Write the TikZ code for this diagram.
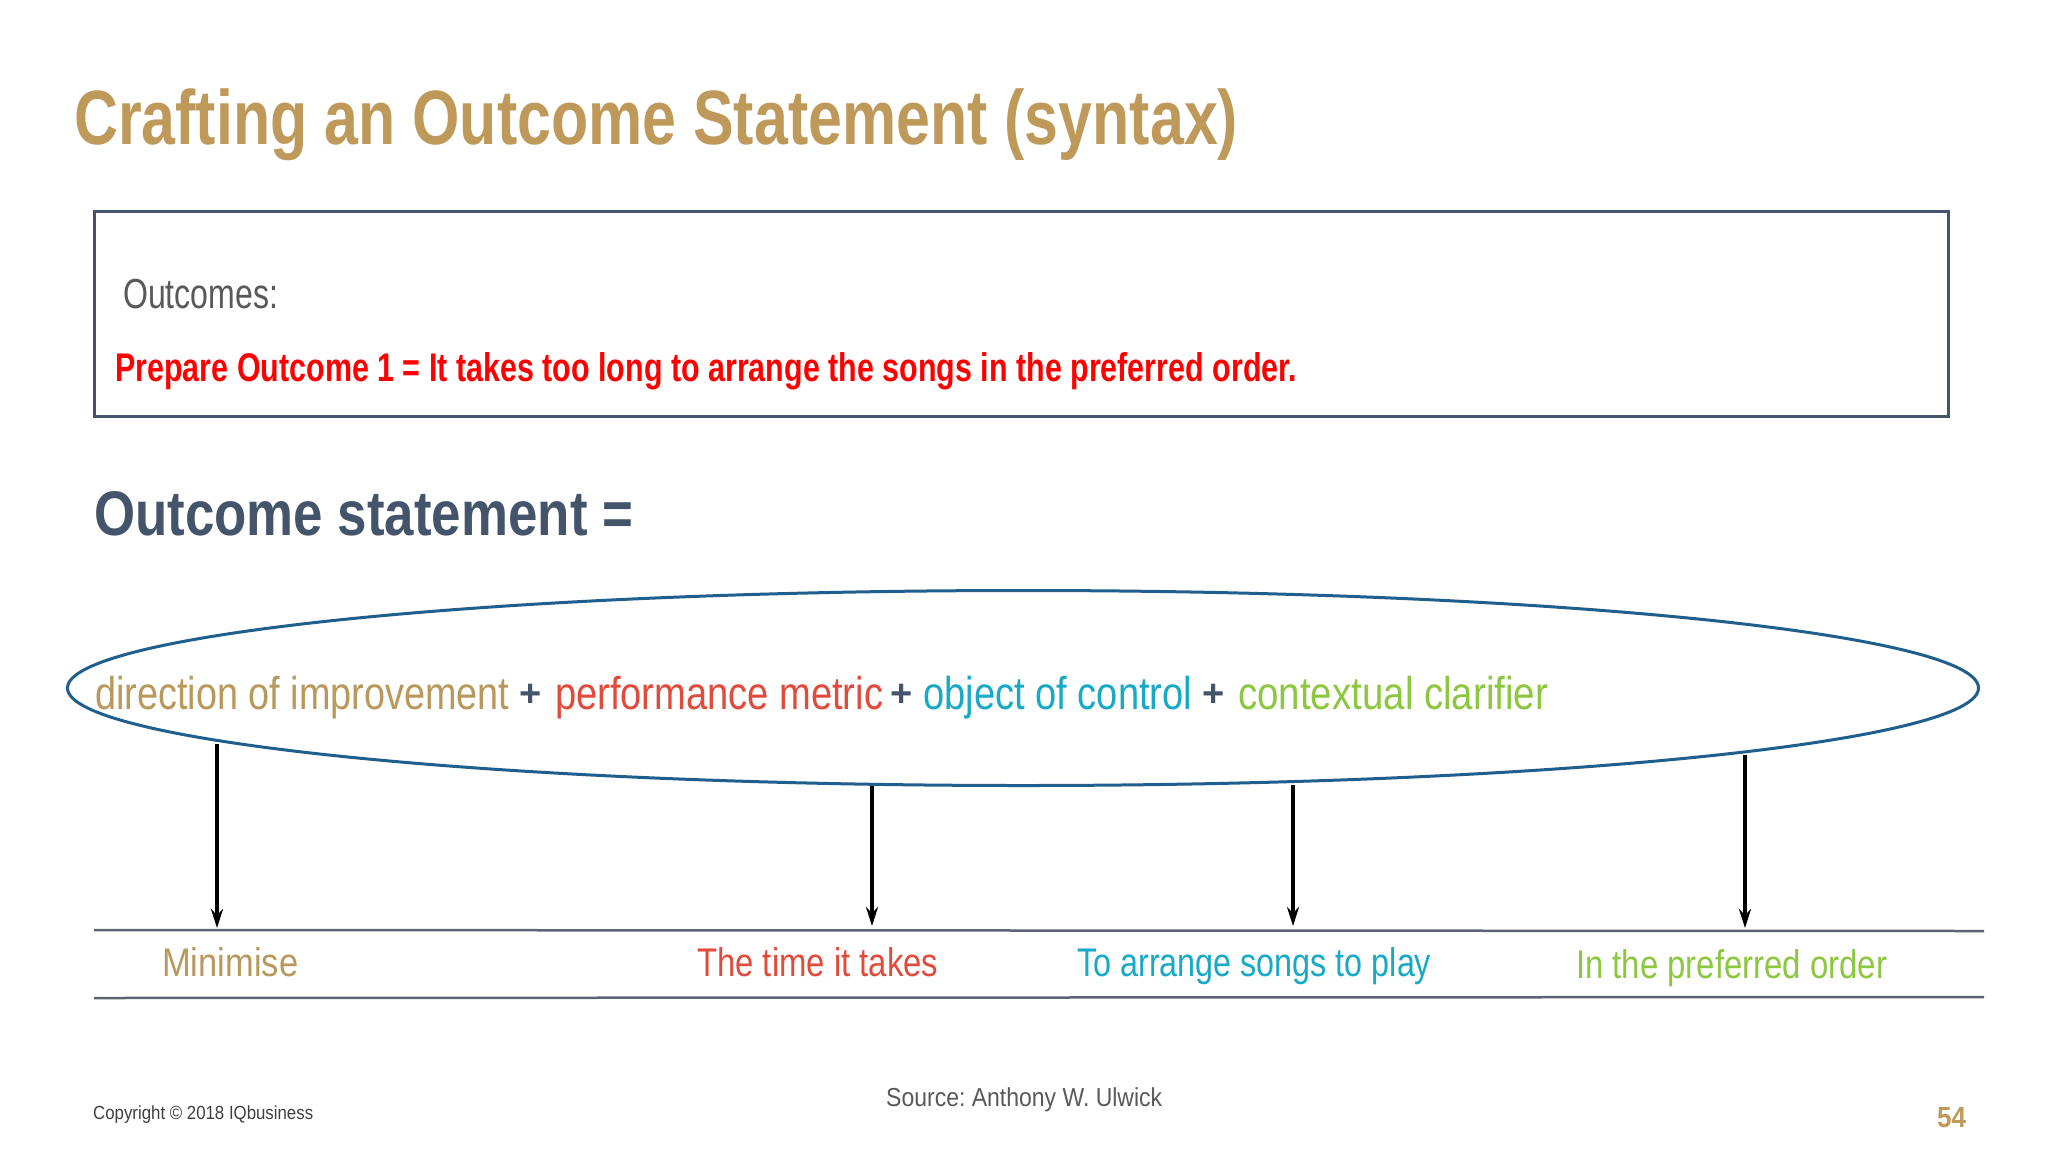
\documentclass[tikz,border=0pt]{standalone}
\usepackage{fontspec}
\usepackage{graphicx}
\setmainfont{Liberation Sans}
\usetikzlibrary{arrows.meta,shapes.geometric}
\frenchspacing
\definecolor{gold}{HTML}{BF995A}
\definecolor{goldl}{HTML}{B9985C}
\definecolor{slate}{HTML}{44546A}
\definecolor{graytxt}{HTML}{595959}
\definecolor{brightred}{HTML}{FF0000}
\definecolor{metricred}{HTML}{E04B3B}
\definecolor{cyanc}{HTML}{18A9C6}
\definecolor{greenc}{HTML}{8DC63F}
\definecolor{ellc}{HTML}{1F5F8E}
\definecolor{rulec}{HTML}{5E6373}
\definecolor{footc}{HTML}{404040}
\newcommand\fw[2]{\resizebox{#1}{\height}{#2}}
\newcommand\fsz[1]{\fontsize{#1}{#1}\selectfont}
\begin{document}
\begin{tikzpicture}[x=1pt,y=-1pt,
  txt/.style={inner sep=0pt, anchor=base west},
  plus/.style={inner sep=0pt, anchor=base, text=slate, font=\fsz{38}\bfseries},
  arr/.style={line width=3.5pt, -{Stealth[length=19pt,width=12pt]}},
  rulel/.style={draw=rulec, line width=2.5pt}]
\fill[white] (0,0) rectangle (2048,1152);
\useasboundingbox (0,0) rectangle (2048,1152);

% title
\node[txt, text=gold, font=\fsz{77}\bfseries] (title) at (74,144) {\fw{1164pt}{Crafting an Outcome Statement (syntax)}};

% outcomes box
\node[draw=slate, line width=2.5pt, minimum width=1854pt, minimum height=205pt, inner sep=0pt, anchor=north west] (box) at (93,210) {};
\node[txt, text=graytxt, font=\fsz{42}] (outc) at (123,308) {\fw{155pt}{Outcomes:}};
\node[txt, text=brightred, font=\fsz{40}\bfseries] (prep) at (115,381) {\fw{1182pt}{Prepare Outcome 1 = It takes too long to arrange the songs in the preferred order.}};

% outcome statement
\node[txt, text=slate, font=\fsz{63}\bfseries] (os) at (94,535) {\fw{539pt}{Outcome statement =}};

% ellipse
\node[ellipse, draw=ellc, line width=3pt, minimum width=1911pt, minimum height=195pt, inner sep=0pt] (ell) at (1023,688) {};

% formula
\node[txt, text=goldl, font=\fsz{46}] (f1) at (95,709) {\fw{414pt}{direction of improvement}};
\node[plus] (p1) at (531,706) {+};
\node[txt, text=metricred, font=\fsz{46}] (f2) at (555,709) {\fw{328pt}{performance metric}};
\node[plus] (p2) at (902,706) {+};
\node[txt, text=cyanc, font=\fsz{46}] (f3) at (923,709) {\fw{269pt}{object of control}};
\node[plus] (p3) at (1214,706) {+};
\node[txt, text=greenc, font=\fsz{46}] (f4) at (1238,709) {\fw{310pt}{contextual clarifier}};

% arrows
\coordinate (a1s) at (217,744); \coordinate (a1e) at (217,928);
\coordinate (a2s) at (872,786); \coordinate (a2e) at (872,926);
\coordinate (a3s) at (1293,785); \coordinate (a3e) at (1293,926);
\coordinate (a4s) at (1745,755); \coordinate (a4e) at (1745,928);
\draw[arr] (a1s) -- (a1e);
\draw[arr] (a2s) -- (a2e);
\draw[arr] (a3s) -- (a3e);
\draw[arr] (a4s) -- (a4e);

% rules
\coordinate (r1w) at (94,930); \coordinate (r1e) at (1984,931);
\coordinate (r2w) at (94,998); \coordinate (r2e) at (1984,997);
\draw[rulel] (r1w) -- (r1e);
\draw[rulel] (r2w) -- (r2e);

% labels
\node[txt, text=goldl, font=\fsz{40}] (l1) at (162,976) {\fw{136pt}{Minimise}};
\node[txt, text=metricred, font=\fsz{40}] (l2) at (697,976) {\fw{241pt}{The time it takes}};
\node[txt, text=cyanc, font=\fsz{40}] (l3) at (1077,976) {\fw{354pt}{To arrange songs to play}};
\node[txt, text=greenc, font=\fsz{40}] (l4) at (1576,978) {\fw{311pt}{In the preferred order}};

% footer
\node[txt, text=footc, font=\fsz{19}] (copy) at (93,1119) {\fw{220pt}{Copyright \textcopyright{} 2018 IQbusiness}};
\node[txt, text=graytxt, font=\fsz{26}] (src) at (886,1106) {\fw{276pt}{Source: Anthony W. Ulwick}};
\node[txt, text=gold, font=\fsz{29}\bfseries] (pg) at (1937,1127) {\fw{29pt}{54}};
\end{tikzpicture}
\end{document}
